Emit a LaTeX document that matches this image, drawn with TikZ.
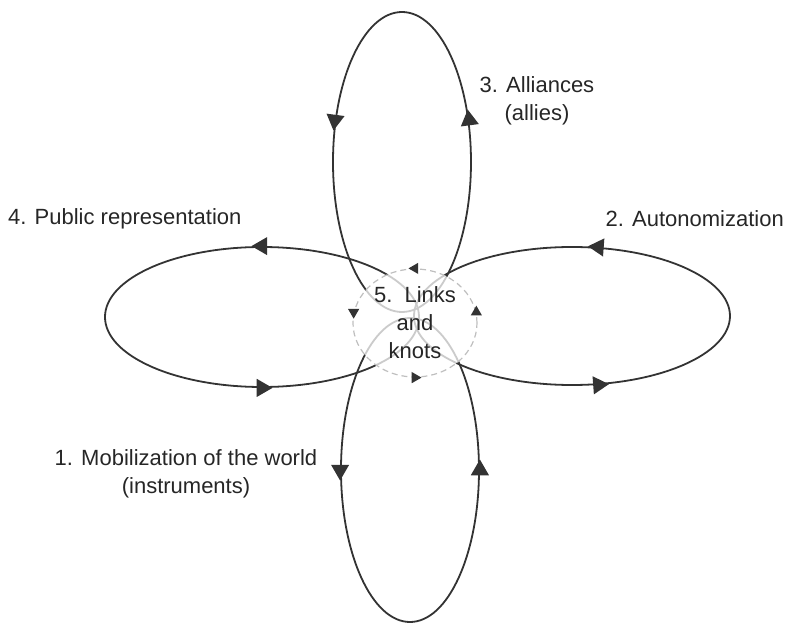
\documentclass[tikz,border=0pt]{standalone}
\usepackage{fontspec}
\setmainfont{Liberation Sans}
\usetikzlibrary{shapes.geometric}

\begin{document}
\begin{tikzpicture}[x=1pt,y=1pt,line width=1.8pt,
  font=\fontsize{22}{28}\selectfont]

        \tikzstyle{lobe}=[draw=black!80, ellipse, inner sep=0pt]
        \tikzstyle{head}=[regular polygon, regular polygon sides=3, fill=black!80, inner sep=0pt, minimum size=21pt]
        \tikzstyle{small head}=[head, minimum size=13pt]
        \tikzstyle{lbl}=[align=center, text=black!85]

        \useasboundingbox (-410,-307) rectangle (386,317);

        % the four loops
        \node[lobe, minimum width=138pt, minimum height=300pt] (3) at (-8,155)  {};
        \node[lobe, minimum width=316pt, minimum height=138pt] (2) at (162,1)   {};
        \node[lobe, minimum width=314pt, minimum height=140pt] (4) at (-148,0)  {};
        \node[lobe, minimum width=138pt, minimum height=304pt] (1) at (0,-153)  {};

        \node[head, rotate=7.6]   at (3.32)  {};
        \node[head, rotate=172.4] at (3.148) {};
        \node[head, rotate=85.8]  at (2.69)  {};
        \node[head, rotate=-85.8] at (2.291) {};
        \node[head, rotate=90]    at (4.north) {};
        \node[head, rotate=-90]   at (4.south) {};
        \node[head, rotate=180]   at (1.west) {};
        \node[head, rotate=0]     at (1.east) {};

        % links and knots
        \node[ellipse, draw=black!25, line width=1.2pt, dash pattern=on 6pt off 4pt,
              fill=white, fill opacity=.75, text opacity=1, text=black!85,
              minimum width=124pt, minimum height=108pt, inner sep=0pt, align=center]
              (5) at (5,-6) {5.\ \ Links\\and\\knots};

        \node[small head, rotate=90]  at (5.north) {};
        \node[small head, rotate=180] at (5.170)   {};
        \node[small head, rotate=-90] at (5.south) {};
        \node[small head, rotate=0]   at (5.10)    {};

        % captions
        \node[lbl, anchor=west] (t4) at (-406,98) {4. Public representation};
        \node[lbl, anchor=east] (t2) at (378,98)  {2. Autonomization};
        \node[lbl]              (t3) at (127,216) {3. Alliances\\(allies)};
        \node[lbl]              (t1) at (-224,-157) {1. Mobilization of the world\\(instruments)};

\end{tikzpicture}
\end{document}
